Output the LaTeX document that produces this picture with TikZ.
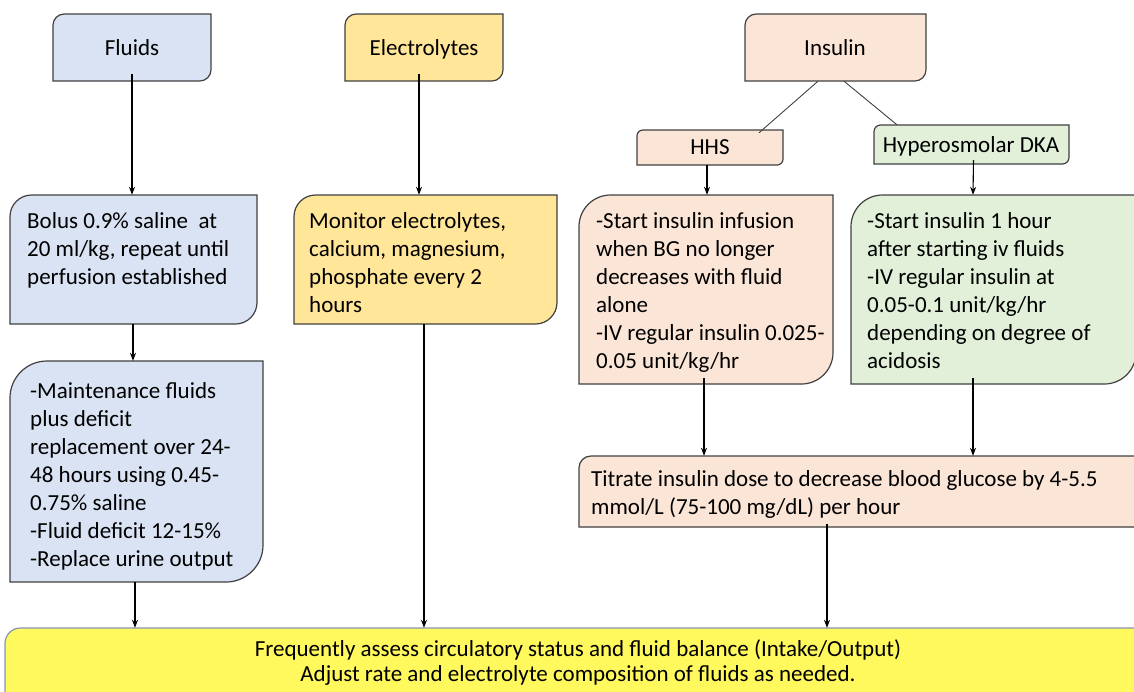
\documentclass[tikz,border=0pt]{standalone}
\usepackage{fontspec}
\setmainfont{Carlito}
\usetikzlibrary{arrows.meta}
\definecolor{fluidc}{HTML}{DAE3F3}
\definecolor{electc}{HTML}{FFE699}
\definecolor{insc}{HTML}{FBE5D6}
\definecolor{dkac}{HTML}{E2F0D9}
\definecolor{botc}{HTML}{FFF95E}
\definecolor{edgec}{HTML}{404040}
\definecolor{botedge}{HTML}{8496B0}
\newcommand\diagbox[7]{%
  \pgfmathsetmacro\rr{0.1667*min(#4-#2,#5-#3)}%
  \path[fill=#6,draw=#7,line width=1.2pt]
    (#2,#5) -- (#2,{#3+\rr}) .. controls (#2,{#3+0.45*\rr}) and ({#2+0.45*\rr},#3) .. ({#2+\rr},#3)
    -- (#4,#3) -- (#4,{#5-\rr}) .. controls (#4,{#5-0.45*\rr}) and ({#4-0.45*\rr},#5) .. ({#4-\rr},#5)
    -- cycle;
  \node[inner sep=0pt, minimum width={#4-#2}, minimum height={#5-#3}] (#1) at ({(#2+#4)/2},{(#3+#5)/2}) {};
}
\tikzset{
  txt/.style={anchor=north west, inner sep=0pt, align=left, font=\fontsize{23}{28}\selectfont},
  ctxt/.style={inner sep=0pt, align=center, font=\fontsize{23}{28}\selectfont},
  ttl/.style={inner sep=0pt, text height=15pt, text depth=5pt, font=\fontsize{23}{28}\selectfont},
  arr/.style={draw=black, line width=1.1pt, -{Stealth[length=8pt,width=6pt]}},
  ln/.style={draw=edgec, line width=0.9pt},
}
\begin{document}
\begin{tikzpicture}[x=1pt,y=-1pt]
\useasboundingbox (0,0) rectangle (1134,691);
\clip (0,0) rectangle (1134,691);
% top row
\diagbox{fluids}{53}{14}{211}{81}{fluidc}{edgec}
\node[ttl] (tfluids) at (132,50) {Fluids};
\diagbox{elec}{345}{14}{503}{81}{electc}{edgec}
\node[ttl] (telec) at (424,50) {Electrolytes};
\diagbox{ins}{745}{14}{926}{81}{insc}{edgec}
\node[ttl] (tins) at (835,50) {Insulin};
% second level insulin
\diagbox{hhs}{637}{130}{783}{165}{insc}{edgec}
\node[ttl] (thhs) at (710,149) {HHS};
\diagbox{dka}{874}{125}{1069}{164}{dkac}{edgec}
\node[ttl] (tdka) at (971,147) {Hyperosmolar DKA};
% body boxes
\diagbox{bolus}{10}{195}{257}{324}{fluidc}{edgec}
\node[txt] (tbolus) at (27,209) {\strut Bolus 0.9\% saline\ \ at\\20 ml/kg, repeat until\\perfusion established};
\diagbox{maint}{10}{361}{263}{582}{fluidc}{edgec}
\node[txt] (tmaint) at (30,379) {\strut -Maintenance fluids\\plus deficit\\replacement over 24-\\48 hours using 0.45-\\0.75\% saline\\-Fluid deficit 12-15\%\\-Replace urine output};
\diagbox{mon}{294}{195}{557}{324}{electc}{edgec}
\node[txt] (tmon) at (309,209) {\strut Monitor electrolytes,\\calcium, magnesium,\\phosphate every 2\\hours};
\diagbox{hhsb}{579}{195}{833}{384}{insc}{edgec}
\node[txt] (thhsb) at (596,209) {\strut -Start insulin infusion\\when BG no longer\\decreases with fluid\\alone\\-IV regular insulin 0.025-\\0.05 unit/kg/hr};
\diagbox{dkab}{851}{195}{1136}{384}{dkac}{edgec}
\node[txt] (tdkab) at (867,209) {\strut -Start insulin 1 hour\\after starting iv fluids\\-IV regular insulin at\\0.05-0.1 unit/kg/hr\\depending on degree of\\acidosis};
\diagbox{tit}{579}{456}{1150}{527}{insc}{edgec}
\node[txt] (ttit) at (591,467) {\strut Titrate insulin dose to decrease blood glucose by 4-5.5\\mmol/L (75-100 mg/dL) per hour};
\diagbox{bot}{5}{628}{1150}{720}{botc}{botedge}
\node[ctxt, font=\fontsize{23}{25}\selectfont] (tbot) at (578,663) {Frequently assess circulatory status and fluid balance (Intake/Output)\\Adjust rate and electrolyte composition of fluids as needed.};
% connectors
\draw[arr] ([yshift=7pt]fluids.south) -- (fluids.south |- bolus.north);
\draw[arr] (bolus.south -| 133,0) -- (maint.north -| 133,0);
\draw[arr] (maint.south -| 135,0) -- (bot.north -| 135,0);
\draw[arr] ([xshift=-5pt,yshift=7pt]elec.south) -- (mon.north -| 419,0);
\draw[arr] (mon.south -| 424,0) -- (bot.north -| 424,0);
\draw[ln] (ins.south -| 818,0) -- ([yshift=-3pt]hhs.north -| 759,0);
\draw[ln] (ins.south -| 844,0) -- (dka.north -| 897,0);
\draw[arr] (hhs.south -| 707,0) -- (hhsb.north -| 707,0);
\draw[arr] ([xshift=2pt,yshift=4pt]dka.south) -- (dkab.north -| 973,0);
\draw[arr] ([xshift=-2pt,yshift=6pt]hhsb.south) -- (tit.north -| 704,0);
\draw[arr] ([yshift=6pt]dkab.south -| 973,0) -- (tit.north -| 973,0);
\draw[arr] ([yshift=3pt]tit.south -| 827,0) -- (bot.north -| 827,0);
\end{tikzpicture}
\end{document}
